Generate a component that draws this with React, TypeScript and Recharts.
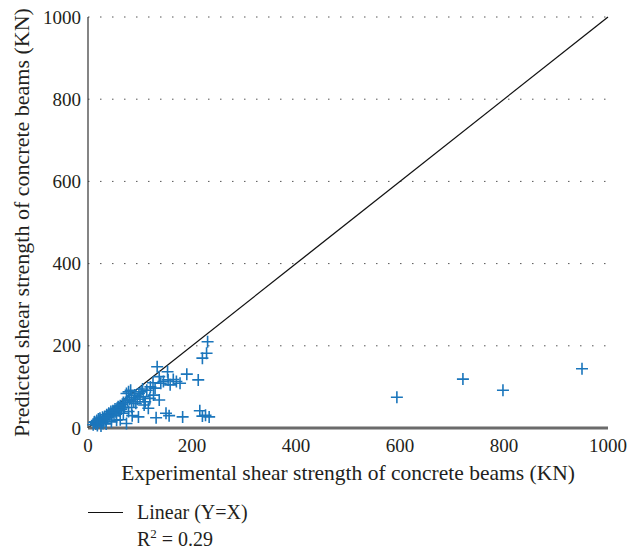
import React from "react";
import {
  ScatterChart,
  Scatter,
  XAxis,
  YAxis,
  CartesianGrid,
  ReferenceLine,
} from "recharts";

// experimental vs predicted shear strength (KN)
const experimental = [
  594, 721, 798, 950,
  230, 228, 220, 212, 190, 215, 220, 233, 226, 182, 156, 150, 131,
  153, 133, 137, 154, 170, 164, 177, 145, 140, 158, 129, 113, 126,
  137, 106, 116, 97, 100, 119, 110, 92, 84, 78, 82, 74, 68, 58, 49,
  39, 23, 13, 29, 55, 68, 78, 74, 108,
  10, 12, 15, 17, 19, 20, 22, 24, 26, 28, 30, 32, 34, 36, 38, 40, 42,
  44, 46, 48, 50, 52, 54, 56, 58, 60, 62, 64, 66, 70, 72, 76, 80, 84,
  88, 90, 95, 98, 102, 105, 18, 25, 35, 45, 62, 85, 120, 125,
];
const predicted = [
  75, 119, 92, 144,
  210, 182, 170, 117, 131, 42, 29, 27, 31, 27, 30, 36, 25,
  137, 149, 125, 117, 113, 118, 109, 113, 109, 105, 97, 92, 80,
  68, 76, 48, 27, 76, 72, 64, 60, 50, 88, 92, 84, 62, 44, 40,
  32, 24, 15, 11, 19, 36, 40, 11, 56,
  8, 14, 10, 18, 12, 22, 16, 20, 14, 26, 20, 28, 22, 32, 26, 36, 30,
  40, 34, 42, 30, 46, 38, 48, 52, 42, 54, 46, 58, 50, 62, 66, 70, 74,
  64, 80, 70, 84, 88, 95, 6, 5, 10, 15, 20, 30, 100, 110,
];
const ticks = [0, 200, 400, 600, 800, 1000];

const points = experimental.map((x, i) => ({ x, y: predicted[i] }));

const FONT = "'Liberation Serif', 'Times New Roman', serif";
const BLUE = "#1b76bc";
const INK = "#231f20";

const Plus = (props: any) => {
  const { cx, cy } = props;
  if (cx == null || cy == null) return null;
  return (
    <path
      d={`M${cx - 6},${cy}h12M${cx},${cy - 6}v12`}
      stroke={BLUE}
      strokeWidth={1.6}
      fill="none"
    />
  );
};

const XTick = ({ x, y, payload }: any) => (
  <text x={x} y={y} dy={14} textAnchor="middle" fontFamily={FONT} fontSize={19} fill={INK}>
    {payload.value}
  </text>
);

const YTick = ({ x, y, payload }: any) => (
  <text x={x} y={y} dy="0.35em" textAnchor="end" fontFamily={FONT} fontSize={19} fill={INK}>
    {payload.value}
  </text>
);

export default function App() {
  return (
    <div style={{ position: "absolute", left: 0, top: 0, width: 629, height: 551, background: "#fff", fontFamily: FONT }}>
      <ScatterChart
        width={629}
        height={551}
        margin={{ top: 17, right: 21, left: 28, bottom: 71 }}
        style={{ fontFamily: FONT }}
      >
        <CartesianGrid
          vertical={false}
          stroke="#555"
          strokeDasharray="1.5 10.5"
        />
        <XAxis
          type="number"
          dataKey="x"
          domain={[0, 1000]}
          ticks={ticks}
          interval={0}
          height={52}
          tickLine={false}
          axisLine={{ stroke: "#6b6b6b", strokeWidth: 3 }}
          tick={<XTick />}
          tickMargin={4}
          label={{
            value: "Experimental shear strength of concrete beams (KN)",
            position: "insideBottom",
            offset: 0,
            fill: INK,
            fontSize: 21.5,
            fontFamily: FONT,
          }}
        />
        <YAxis
          type="number"
          dataKey="y"
          domain={[0, 1000]}
          ticks={ticks}
          interval={0}
          width={60}
          tickLine={false}
          axisLine={{ stroke: "#333", strokeWidth: 1.2 }}
          tick={<YTick />}
          tickMargin={1}
          label={{
            value: "Predicted shear strength of concrete beams (KN)",
            angle: -90,
            position: "insideLeft",
            offset: -7,
            style: { textAnchor: "middle" },
            fill: INK,
            fontSize: 22,
            fontFamily: FONT,
          }}
        />
        <ReferenceLine
          segment={[{ x: 0, y: 0 }, { x: 1000, y: 1000 }]}
          stroke="#111"
          strokeWidth={1.3}
          ifOverflow="visible"
        />
        <Scatter data={points} shape={Plus} isAnimationActive={false} />
      </ScatterChart>
      <div style={{ position: "absolute", left: 88, top: 499, color: INK, fontSize: 20, lineHeight: "27px" }}>
        <div style={{ display: "flex", alignItems: "center" }}>
          <span style={{ display: "inline-block", width: 35, borderTop: "1.3px solid #111", marginRight: 14 }} />
          <span>Linear (Y=X)</span>
        </div>
        <div style={{ marginLeft: 49 }}>
          R<sup style={{ fontSize: 13, lineHeight: 0 }}>2</sup> = 0.29
        </div>
      </div>
    </div>
  );
}
